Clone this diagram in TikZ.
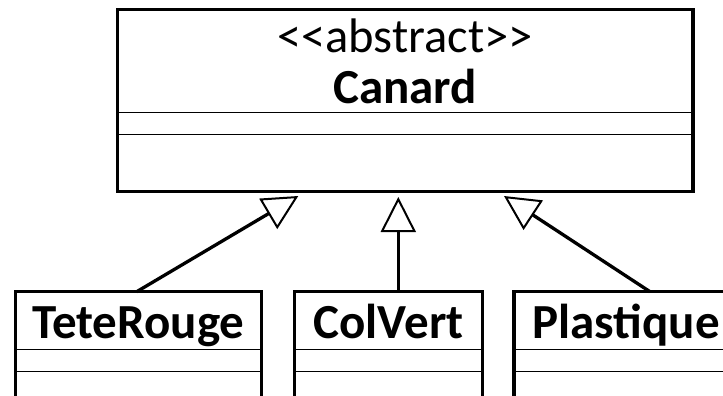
\documentclass[tikz,border=0pt]{standalone}
\usepackage{fontspec}
\setmainfont{Carlito}
\usetikzlibrary{arrows.meta}
\begin{document}
\begin{tikzpicture}[x=1pt,y=-1pt,
  classbox/.style={draw=black,line width=3.5pt,rectangle,inner sep=0pt,outer sep=0pt,fill=white},
  sep/.style={draw=black,line width=0.9pt},
  title/.style={font=\fontsize{49}{55}\selectfont\bfseries,anchor=base,inner sep=0pt},
  stereo/.style={font=\fontsize{48.5}{54}\selectfont,anchor=base,inner sep=0pt},
  inherit/.style={draw=black,line width=3.3pt,-{Triangle[open,length=35pt,width=35pt,line width=2pt]}}]
\clip (0,0) rectangle (723,396);
\fill[white] (0,0) rectangle (723,396);
% main class
\node[classbox,minimum width=575.5pt,minimum height=182pt] (canard) at (405.25,100.4) {};
\node[stereo] (st) at (405,53) {<{}<abstract>{}>};
\node[title] (cn) at (405,103) {Canard};
\draw[sep] (canard.west |- 0,112) -- (canard.east |- 0,112);
\draw[sep] (canard.west |- 0,134.5) -- (canard.east |- 0,134.5);
% subclasses
\node[classbox,minimum width=246pt,minimum height=140pt,anchor=north west] (tete) at (15.3,291.7) {};
\node[classbox,minimum width=188.4pt,minimum height=140pt,anchor=north west] (colvert) at (294.3,291.7) {};
\node[classbox,minimum width=224pt,minimum height=140pt,anchor=north west] (plast) at (514,291.7) {};
\node[title] (tt) at (tete.north |- 0,338.3) {TeteRouge};
\node[title] (ct) at (colvert.north |- 0,338.3) {ColVert};
\node[title] (pt) at (plast.north |- 0,338.3) {Plastique};
\foreach \b in {tete,colvert,plast}{
  \draw[sep] (\b.west |- 0,349.3) -- (\b.east |- 0,349.3);
  \draw[sep] (\b.west |- 0,371) -- (\b.east |- 0,371);
}
% generalisations
\coordinate (tipL) at (298.3,196);
\coordinate (tipM) at (398.3,197);
\coordinate (tipR) at (504,196);
\coordinate (startM) at (398.3,291.7);
\coordinate (startR) at (650,291.7);
\draw[inherit] ([xshift=-1.6pt]tete.north) -- (tipL);
\draw[inherit] (startM) -- (tipM);
\draw[inherit] (startR) -- (tipR);
\end{tikzpicture}
\end{document}
